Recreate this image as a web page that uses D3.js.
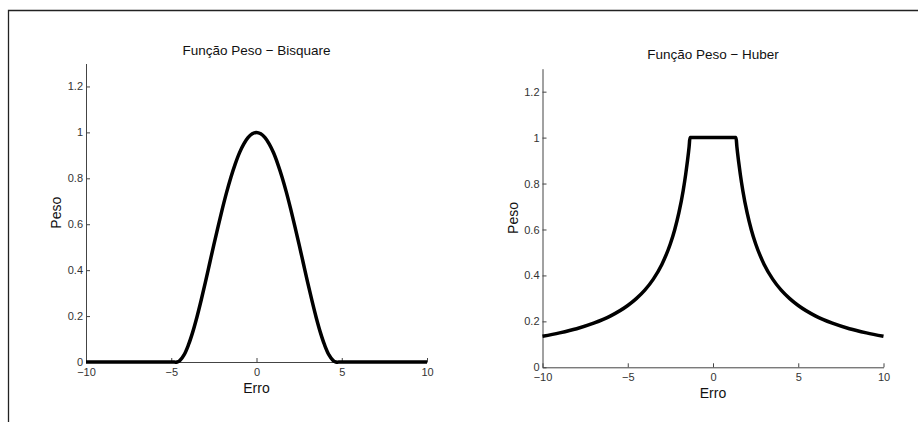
<!DOCTYPE html>
<meta charset="utf-8">
<style>
body { margin: 0; background: #fff; }
svg { display: block; font-family: "Liberation Sans", Arial, sans-serif; }
.axis path, .axis line { stroke: #444; stroke-width: 1; }
.axis text { fill: #333; font-size: 11px; font-family: "Liberation Sans", Arial, sans-serif; }
.title { font-size: 13.5px; fill: #111; text-anchor: middle; }
.label { font-size: 14px; fill: #111; text-anchor: middle; }
.curve { fill: none; stroke: #000; stroke-width: 3.5; stroke-linejoin: round; }
</style>
<svg width="918" height="422"></svg>
<script src="https://d3js.org/d3.v7.min.js"></script>
<script>

// values
var bisquareErro = [-10, -5, -4.65, -4.5, -4.25, -4, -3.75, -3.5, -3.25, -3, -2.75, -2.5, -2.25, -2, -1.75, -1.5, -1.25, -1, -0.75, -0.5, -0.25, 0,
	0.25, 0.5, 0.75, 1, 1.25, 1.5, 1.75, 2, 2.25, 2.5, 2.75, 3, 3.25, 3.5, 3.75, 4, 4.25, 4.5, 4.65, 5, 10];
var bisquarePeso = [0, 0, 0, 0.006, 0.031, 0.073, 0.128, 0.194, 0.268, 0.347, 0.429, 0.511, 0.591, 0.668, 0.74, 0.805, 0.862, 0.911, 0.949, 0.977, 0.994, 1,
	0.994, 0.977, 0.949, 0.911, 0.862, 0.805, 0.74, 0.668, 0.591, 0.511, 0.429, 0.347, 0.268, 0.194, 0.128, 0.073, 0.031, 0.006, 0, 0, 0];

var huberErro = [-10, -9, -8, -7, -6, -5, -4.5, -4, -3.5, -3, -2.5, -2.25, -2, -1.75, -1.6, -1.5, -1.4, -1.35, 1.35, 1.4, 1.5, 1.6, 1.75, 2, 2.25, 2.5, 3, 3.5, 4, 4.5, 5, 6, 7, 8, 9, 10];
var huberPeso = [0.135, 0.15, 0.168, 0.192, 0.224, 0.269, 0.299, 0.336, 0.384, 0.448, 0.538, 0.598, 0.673, 0.769, 0.841, 0.897, 0.961, 1, 1, 0.961, 0.897, 0.841, 0.769, 0.673, 0.598, 0.538, 0.448, 0.384, 0.336, 0.299, 0.269, 0.224, 0.192, 0.168, 0.15, 0.135];

var xTicks = [-10, -5, 0, 5, 10];
var yTicks = [0, 0.2, 0.4, 0.6, 0.8, 1, 1.2];
var titles = ["Função Peso \u2212 Bisquare", "Função Peso \u2212 Huber"];

var svg = d3.select("svg");

// frame lines (top and left only)
svg.append("path")
	.attr("d", "M8.5,422V10.5H918")
	.attr("fill", "none")
	.attr("stroke", "#222")
	.attr("stroke-width", 1.3);

var panels = [
	{ title: titles[0], xs: bisquareErro, ys: bisquarePeso, curve: d3.curveCatmullRom.alpha(0.5), left: 86, right: 427, top: 63.5, bottom: 362, titleY: 54.5, erroY: 393, pesoX: 61 },
	{ title: titles[1], xs: huberErro, ys: huberPeso, curve: d3.curveMonotoneX, left: 542.5, right: 883.5, top: 68.7, bottom: 367.3, titleY: 59, erroY: 398, pesoX: 518 }
];

panels.forEach(function(p) {
	var x = d3.scaleLinear().domain([-10, 10]).range([p.left, p.right]);
	var y = d3.scaleLinear().domain([0, 1.3]).range([p.bottom, p.top]);
	var g = svg.append("g");

	g.append("g")
		.attr("class", "axis")
		.attr("transform", "translate(0," + p.bottom + ")")
		.call(d3.axisBottom(x).tickValues(xTicks).tickFormat(d3.format("~g"))
			.tickSizeInner(-4).tickSizeOuter(0).tickPadding(6));

	g.append("g")
		.attr("class", "axis")
		.attr("transform", "translate(" + p.left + ",0)")
		.call(d3.axisLeft(y).tickValues(yTicks).tickFormat(d3.format("~g"))
			.tickSizeInner(-4).tickSizeOuter(0).tickPadding(3));

	var line = d3.line()
		.x(function(d, i) { return x(p.xs[i]); })
		.y(function(d) { return y(d); })
		.curve(p.curve);

	g.append("path")
		.attr("class", "curve")
		.attr("d", line(p.ys));

	var cx = (p.left + p.right) / 2;
	g.append("text").attr("class", "title").attr("x", cx).attr("y", p.titleY).text(p.title);
	g.append("text").attr("class", "label").attr("x", cx).attr("y", p.erroY).text("Erro");
	g.append("text").attr("class", "label")
		.attr("transform", "translate(" + p.pesoX + "," + ((p.top + p.bottom) / 2) + ") rotate(-90)")
		.text("Peso");
});

</script>
